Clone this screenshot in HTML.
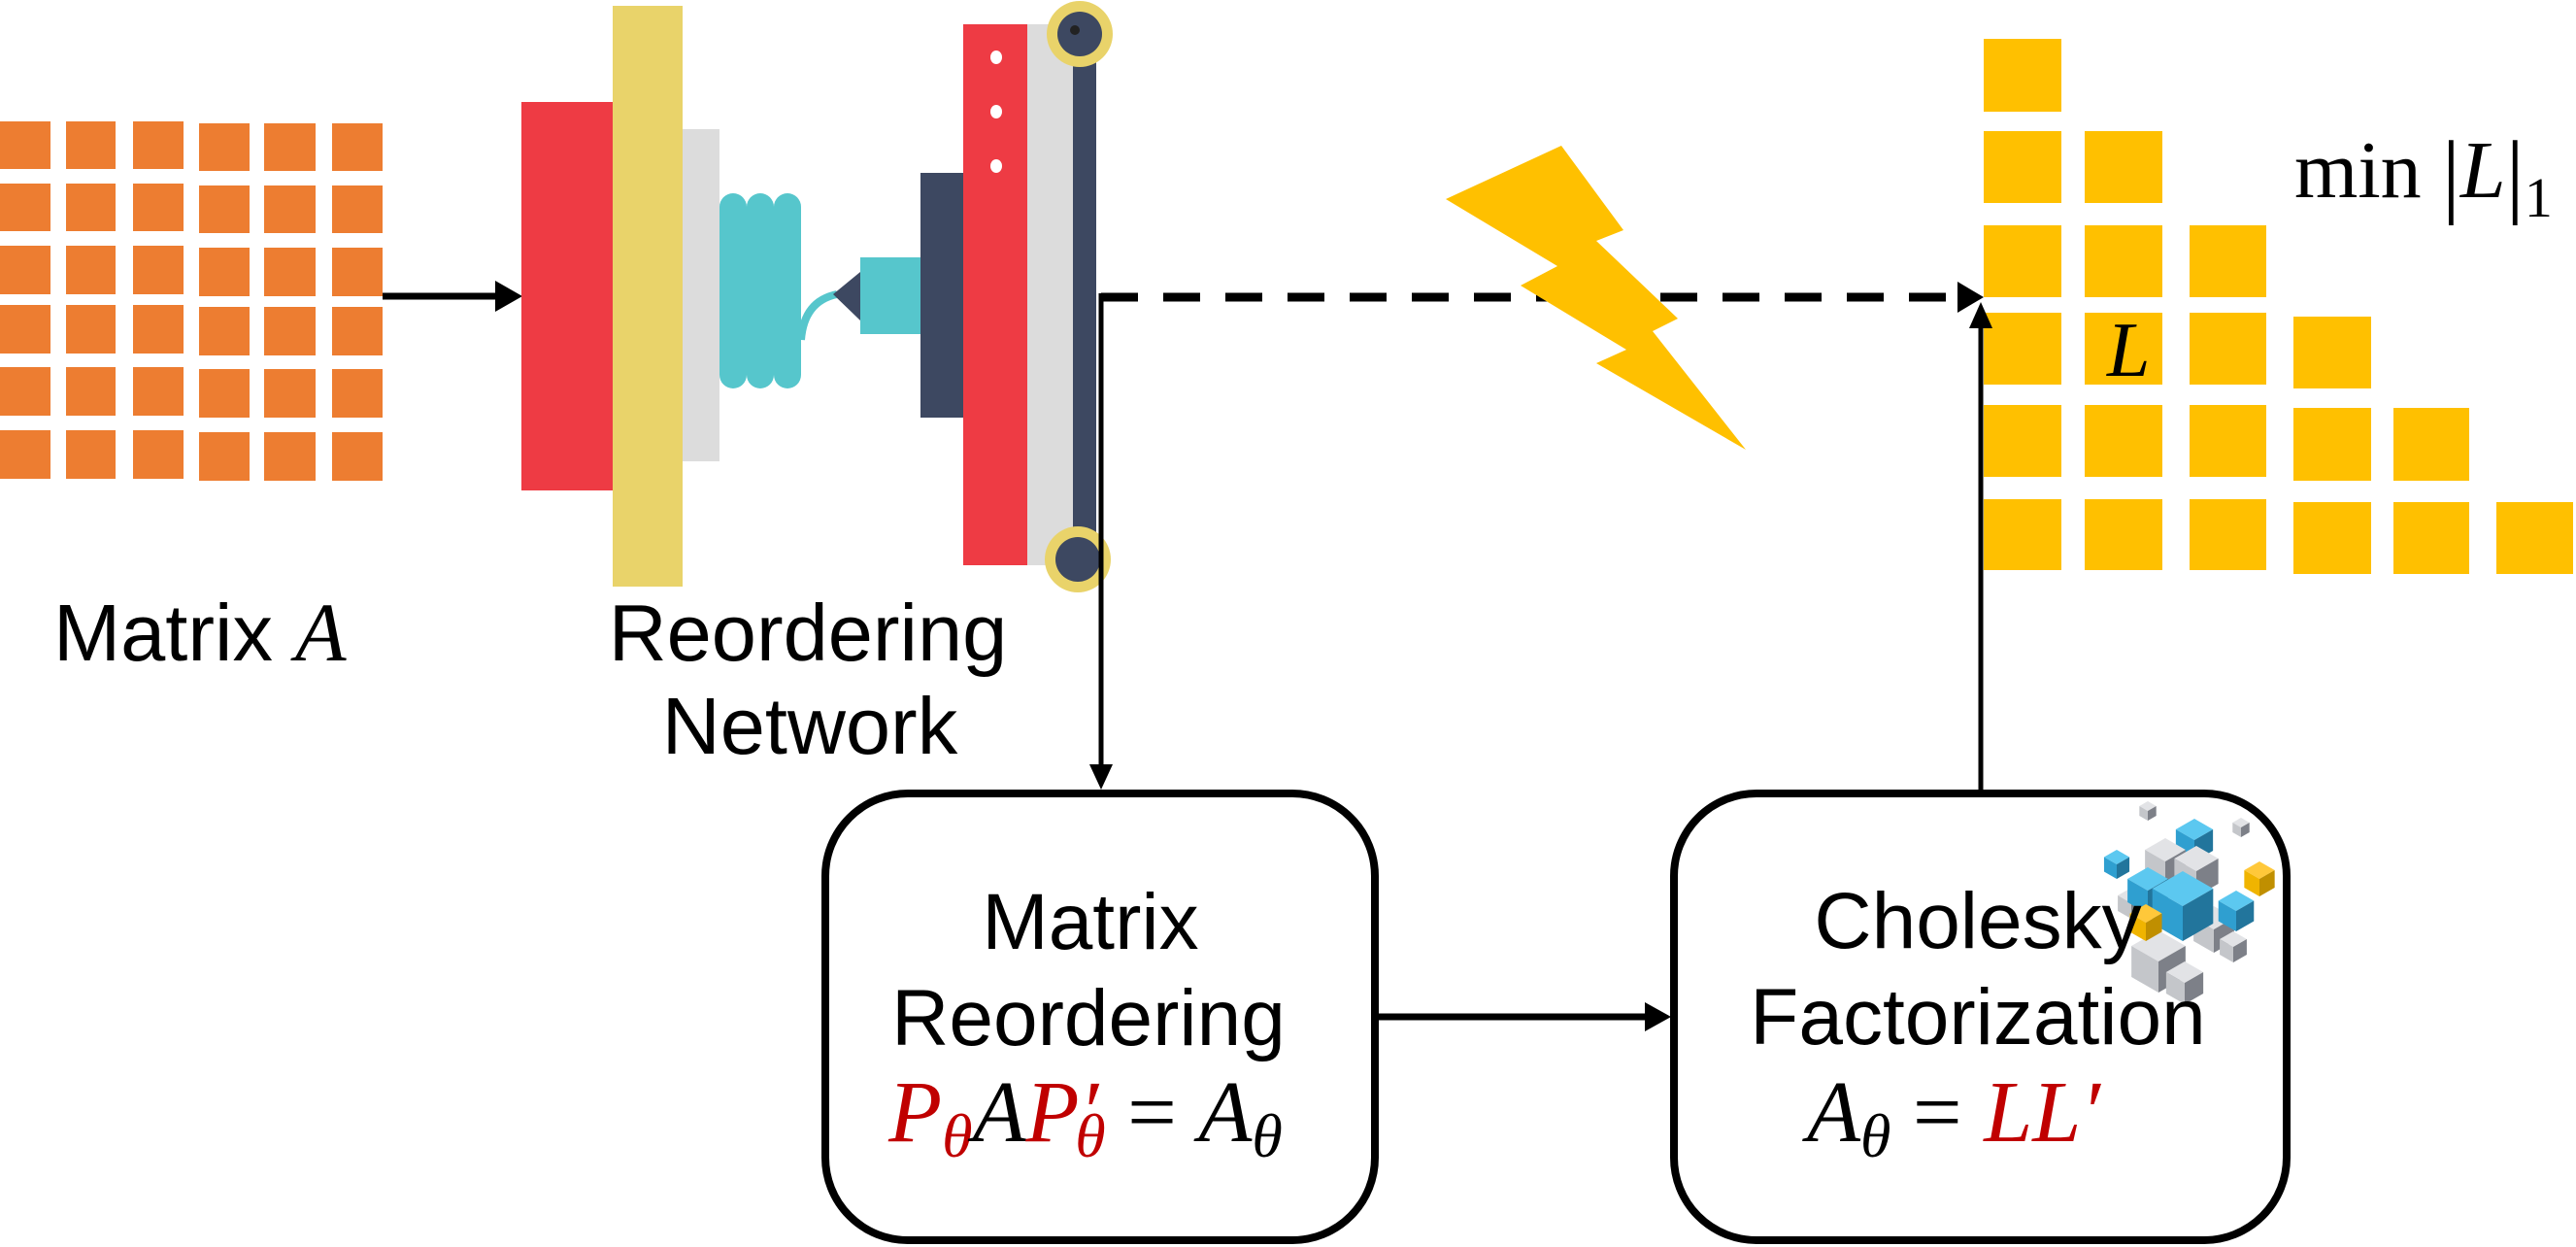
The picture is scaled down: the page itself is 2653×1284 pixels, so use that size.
<!DOCTYPE html>
<html><head><meta charset="utf-8"><style>
html,body{margin:0;padding:0;background:#fff;}
svg{display:block;}
.s{font-family:"Liberation Sans",Arial,sans-serif;}
.m{font-family:"Liberation Serif","DejaVu Serif",serif;font-style:italic;}
</style></head><body>
<svg width="2653" height="1284" viewBox="0 0 2653 1284" xmlns="http://www.w3.org/2000/svg">
<defs>
<g id="cb"><polygon points="0,-1 0.87,-0.5 0,0 -0.87,-0.5" fill="#5cc8f0"/><polygon points="-0.87,-0.5 0,0 0,1 -0.87,0.5" fill="#2f9fd0"/><polygon points="0,0 0.87,-0.5 0.87,0.5 0,1" fill="#22759c"/></g>
<g id="cg"><polygon points="0,-1 0.87,-0.5 0,0 -0.87,-0.5" fill="#e2e3e6"/><polygon points="-0.87,-0.5 0,0 0,1 -0.87,0.5" fill="#c4c6ca"/><polygon points="0,0 0.87,-0.5 0.87,0.5 0,1" fill="#7d8088"/></g>
<g id="cy"><polygon points="0,-1 0.87,-0.5 0,0 -0.87,-0.5" fill="#ffc83a"/><polygon points="-0.87,-0.5 0,0 0,1 -0.87,0.5" fill="#f0b400"/><polygon points="0,0 0.87,-0.5 0.87,0.5 0,1" fill="#c08f00"/></g>
</defs>
<g fill="#ed7d31">
<rect x="0" y="125" width="52" height="49"/><rect x="68" y="125" width="51" height="49"/><rect x="137" y="125" width="52" height="49"/><rect x="205" y="127" width="52" height="49"/><rect x="272" y="127" width="53" height="49"/><rect x="342" y="127" width="52" height="49"/>
<rect x="0" y="189" width="52" height="49"/><rect x="68" y="189" width="51" height="49"/><rect x="137" y="189" width="52" height="49"/><rect x="205" y="191" width="52" height="49"/><rect x="272" y="191" width="53" height="49"/><rect x="342" y="191" width="52" height="49"/>
<rect x="0" y="253" width="52" height="50"/><rect x="68" y="253" width="51" height="50"/><rect x="137" y="253" width="52" height="50"/><rect x="205" y="255" width="52" height="50"/><rect x="272" y="255" width="53" height="50"/><rect x="342" y="255" width="52" height="50"/>
<rect x="0" y="314" width="52" height="50"/><rect x="68" y="314" width="51" height="50"/><rect x="137" y="314" width="52" height="50"/><rect x="205" y="316" width="52" height="50"/><rect x="272" y="316" width="53" height="50"/><rect x="342" y="316" width="52" height="50"/>
<rect x="0" y="378" width="52" height="50"/><rect x="68" y="378" width="51" height="50"/><rect x="137" y="378" width="52" height="50"/><rect x="205" y="380" width="52" height="50"/><rect x="272" y="380" width="53" height="50"/><rect x="342" y="380" width="52" height="50"/>
<rect x="0" y="443" width="52" height="50"/><rect x="68" y="443" width="51" height="50"/><rect x="137" y="443" width="52" height="50"/><rect x="205" y="445" width="52" height="50"/><rect x="272" y="445" width="53" height="50"/><rect x="342" y="445" width="52" height="50"/>
</g>
<line x1="394" y1="305" x2="515" y2="305" stroke="#000" stroke-width="7"/>
<polygon points="538,305 510,289 510,321" fill="#000"/>
<rect x="537" y="105" width="94" height="400" fill="#ee3b44"/>
<rect x="631" y="6" width="72" height="598" fill="#e9d36a"/>
<rect x="703" y="133" width="38" height="342" fill="#dcdcdc"/>
<g fill="#56c6cc"><rect x="741" y="199" width="28" height="201" rx="14"/><rect x="769" y="199" width="28" height="201" rx="14"/><rect x="797" y="199" width="28" height="201" rx="14"/></g>
<path d="M825,350 Q828,310 862,303" stroke="#56c6cc" stroke-width="8" fill="none"/>
<polygon points="858,303 886,280 886,330" fill="#3d4861"/>
<rect x="886" y="265" width="62" height="79" fill="#56c6cc"/>
<rect x="948" y="178" width="44" height="252" fill="#3d4861"/>
<rect x="992" y="25" width="66" height="557" fill="#ee3b44"/>
<g fill="#fff"><ellipse cx="1026" cy="59" rx="6" ry="7"/><ellipse cx="1026" cy="115" rx="6" ry="7"/><ellipse cx="1026" cy="171" rx="6" ry="7"/></g>
<rect x="1058" y="25" width="47" height="557" fill="#dcdcdc"/>
<rect x="1105" y="33" width="24" height="541" fill="#3d4861"/>
<circle cx="1112" cy="35" r="34" fill="#e9d36a"/><circle cx="1112" cy="35" r="23" fill="#3d4861"/><circle cx="1107" cy="31" r="5" fill="#222"/>
<circle cx="1110" cy="576" r="34" fill="#e9d36a"/><circle cx="1110" cy="576" r="23" fill="#3d4861"/>
<text x="55" y="680" class="s" font-size="83">Matrix <tspan class="m" font-size="86">A</tspan></text>
<text x="832" y="680" class="s" font-size="83" text-anchor="middle">Reordering</text>
<text x="834" y="776" class="s" font-size="83" text-anchor="middle">Network</text>
<line x1="1134" y1="306" x2="2020" y2="306" stroke="#000" stroke-width="9" stroke-dasharray="38,26"/>
<polygon points="2043,306 2016,290 2016,322" fill="#000"/>
<line x1="1134" y1="302" x2="1134" y2="795" stroke="#000" stroke-width="5"/>
<polygon points="1134,813 1122,787 1146,787" fill="#000"/>
<polygon points="1608,150 1672,237 1644,248 1728,328 1702,341 1798,463 1644,374 1675,360 1566,294 1604,274 1489,205" fill="#ffc000"/>
<g fill="#ffc000">
<rect x="2043" y="40" width="80" height="75"/>
<rect x="2043" y="135" width="80" height="74"/><rect x="2147" y="135" width="80" height="74"/>
<rect x="2043" y="232" width="80" height="74"/><rect x="2147" y="232" width="80" height="74"/><rect x="2255" y="232" width="79" height="74"/>
<rect x="2043" y="322" width="80" height="74"/><rect x="2147" y="322" width="80" height="74"/><rect x="2255" y="322" width="79" height="74"/><rect x="2362" y="326" width="80" height="74"/>
<rect x="2043" y="417" width="80" height="74"/><rect x="2147" y="417" width="80" height="74"/><rect x="2255" y="417" width="79" height="74"/><rect x="2362" y="420" width="80" height="75"/><rect x="2465" y="420" width="78" height="75"/>
<rect x="2043" y="514" width="80" height="73"/><rect x="2147" y="514" width="80" height="73"/><rect x="2255" y="514" width="79" height="73"/><rect x="2362" y="517" width="80" height="74"/><rect x="2465" y="517" width="78" height="74"/><rect x="2571" y="517" width="79" height="74"/>
</g>
<text x="2170" y="387" class="m" font-size="80">L</text>
<text x="2363" y="203" font-family="Liberation Serif,serif" font-size="84">min <tspan font-size="96" dy="8">|</tspan><tspan class="m" dy="-8">L</tspan><tspan font-size="96" dy="8">|</tspan><tspan font-size="58" dy="12">1</tspan></text>
<line x1="2040" y1="818" x2="2040" y2="335" stroke="#000" stroke-width="5"/>
<polygon points="2040,311 2028,338 2052,338" fill="#000"/>
<rect x="850" y="817" width="566" height="460" rx="85" ry="85" fill="none" stroke="#000" stroke-width="8"/>
<rect x="1724" y="817" width="631" height="460" rx="85" ry="85" fill="none" stroke="#000" stroke-width="8"/>
<line x1="1420" y1="1047" x2="1700" y2="1047" stroke="#000" stroke-width="7"/>
<polygon points="1721,1047 1694,1032 1694,1062" fill="#000"/>
<use href="#cg" transform="translate(2212,835) scale(10)"/>
<use href="#cg" transform="translate(2308,852) scale(10)"/>
<use href="#cb" transform="translate(2260,865) scale(22)"/>
<use href="#cb" transform="translate(2180,890) scale(15)"/>
<use href="#cy" transform="translate(2327,905) scale(18)"/>
<use href="#cg" transform="translate(2230,887) scale(24)"/>
<use href="#cg" transform="translate(2262,897) scale(26)"/>
<use href="#cg" transform="translate(2195,930) scale(16)"/>
<use href="#cb" transform="translate(2212,917) scale(24)"/>
<use href="#cg" transform="translate(2280,957) scale(24)"/>
<use href="#cg" transform="translate(2300,975) scale(16)"/>
<use href="#cg" transform="translate(2223,990) scale(32)"/>
<use href="#cg" transform="translate(2250,1012) scale(22)"/>
<use href="#cb" transform="translate(2248,933) scale(36)"/>
<use href="#cb" transform="translate(2303,938) scale(21)"/>
<use href="#cy" transform="translate(2210,950) scale(19)"/>
<text x="1123" y="977" class="s" font-size="82" text-anchor="middle">Matrix</text>
<text x="1121" y="1076" class="s" font-size="82" text-anchor="middle">Reordering</text>
<text x="1118" y="1175" class="m" font-size="90" text-anchor="middle"><tspan fill="#c00000">P</tspan><tspan fill="#c00000" font-size="64" dy="16">θ</tspan><tspan dy="-16">A</tspan><tspan fill="#c00000">P′</tspan><tspan fill="#c00000" font-size="64" dy="16" dx="-24">θ</tspan><tspan dy="-16" font-style="normal">  =  </tspan>A<tspan font-size="64" dy="16">θ</tspan></text>
<text x="2012" y="1175" class="m" font-size="90" text-anchor="middle">A<tspan font-size="64" dy="16">θ</tspan><tspan dy="-16" font-style="normal">  =  </tspan><tspan fill="#c00000">LL′</tspan></text>
<text x="2037" y="976" class="s" font-size="82" text-anchor="middle">Cholesky</text>
<text x="2037" y="1075" class="s" font-size="82" text-anchor="middle">Factorization</text>
</svg>
</body></html>
